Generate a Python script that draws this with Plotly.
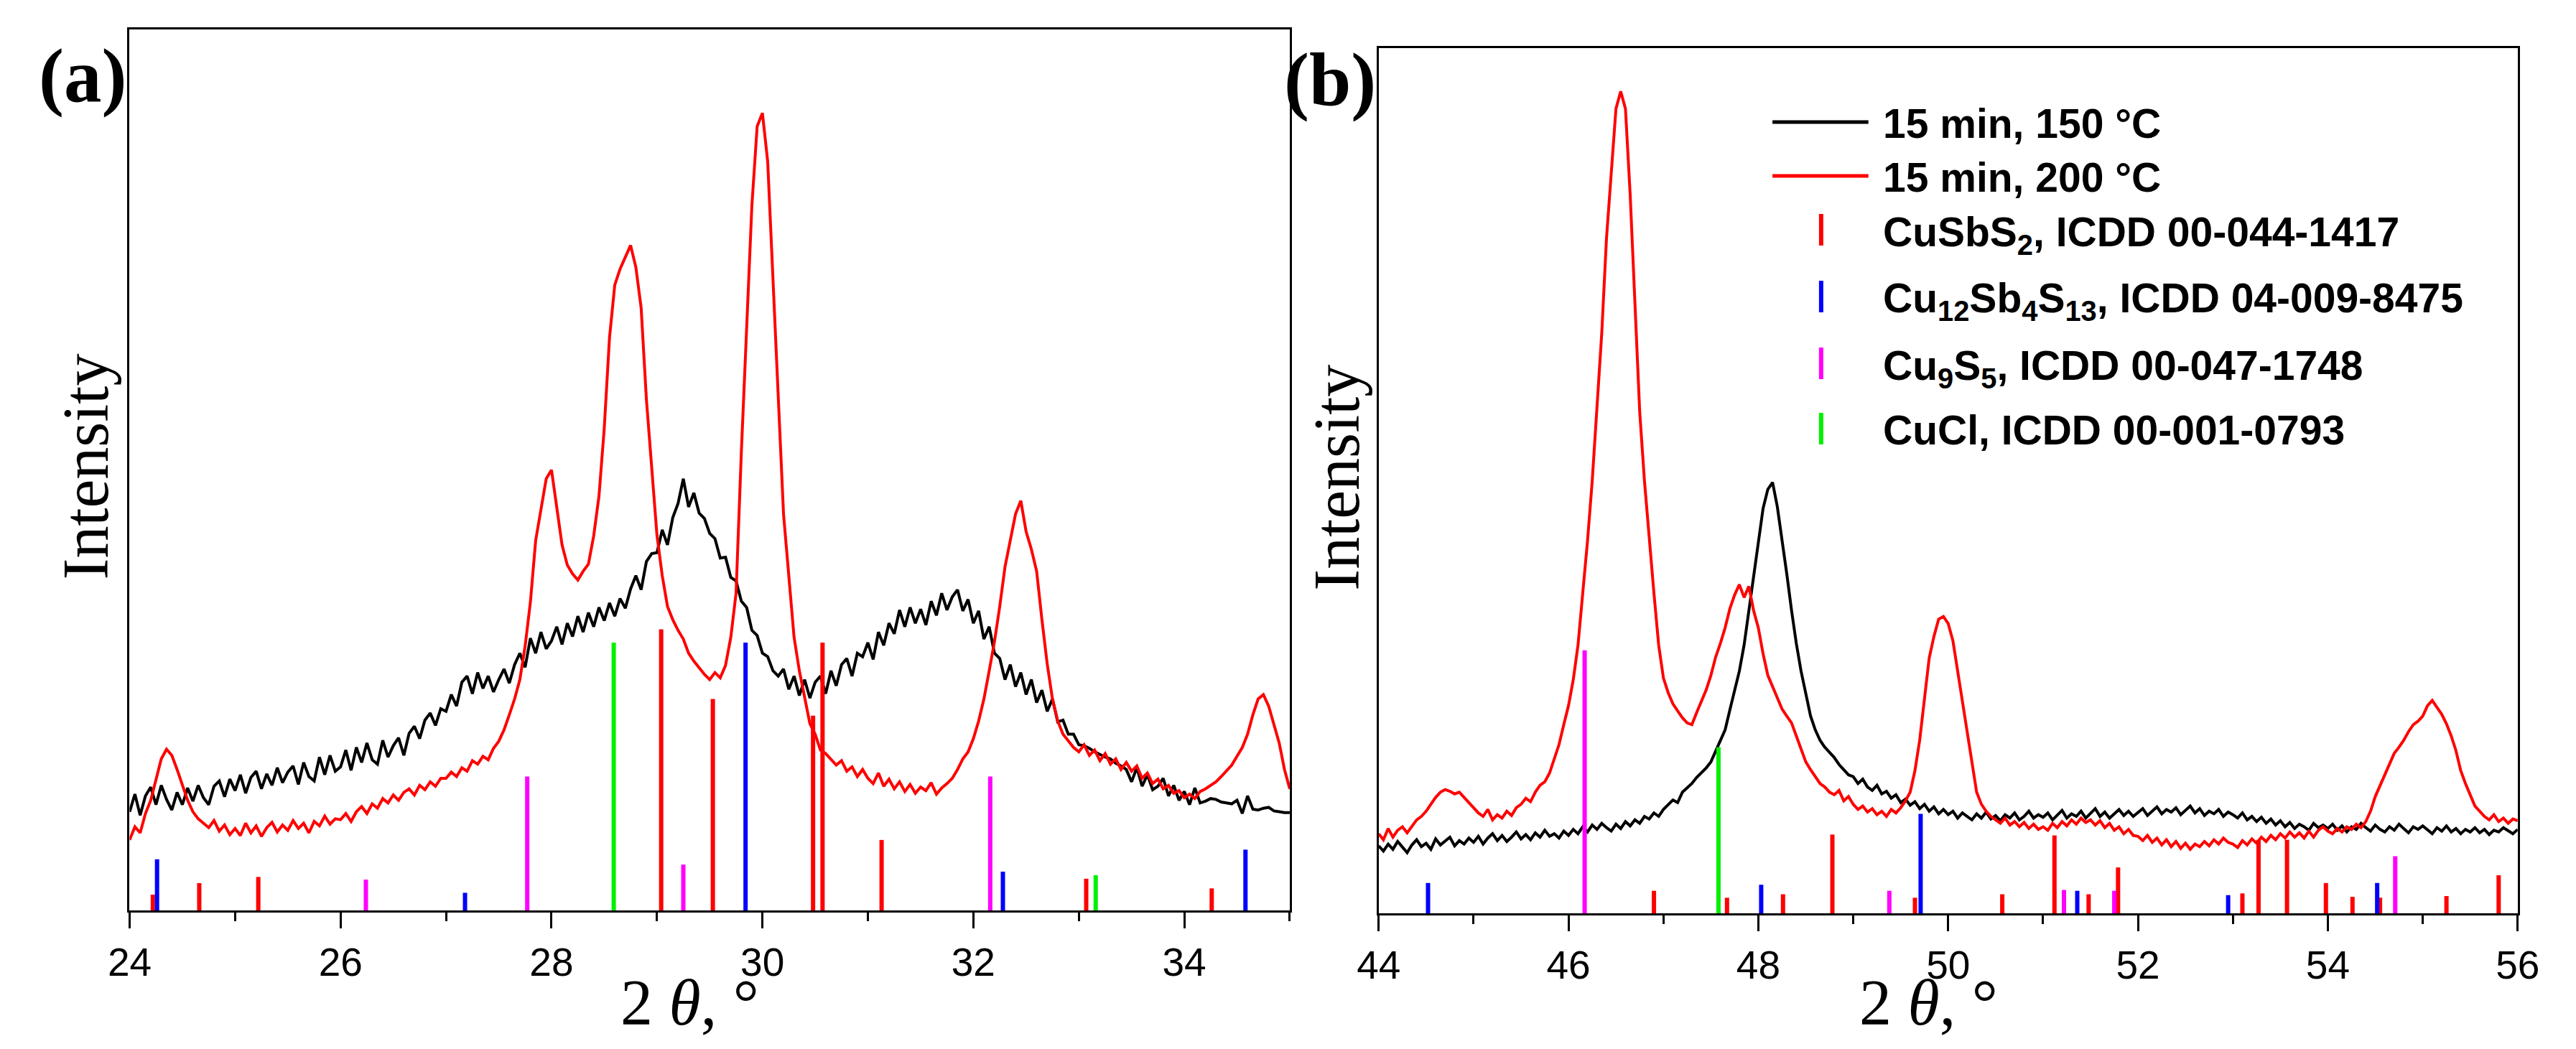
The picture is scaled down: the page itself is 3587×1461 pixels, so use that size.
import numpy as np
import plotly.graph_objects as go

# ---------------- data ----------------
theta_a = np.round(np.arange(24.0, 35.0001, 0.05), 2)
theta_b = np.round(np.arange(44.0, 56.0001, 0.05), 2)

black_a = [
    .112, .132, .108, .130, .140, .120, .142, .126, .114, .134, .120, .139, .124, .142, .128, .120, .141, .147, .129, .149,
    .136, .154, .133, .151, .158, .138, .155, .142, .162, .145, .157, .164, .143, .168, .152, .147, .174, .154, .176, .158,
    .163, .182, .159, .185, .168, .190, .171, .166, .193, .174, .187, .196, .176, .201, .209, .195, .216, .224, .210, .229,
    .226, .245, .232, .259, .266, .246, .270, .252, .266, .248, .262, .274, .258, .279, .292, .276, .309, .292, .316, .297,
    .306, .322, .302, .326, .311, .334, .316, .338, .322, .344, .329, .349, .334, .354, .343, .365, .380, .364, .396, .405,
    .406, .432, .415, .446, .462, .490, .458, .474, .451, .445, .428, .422, .400, .401, .378, .374, .351, .344, .318, .312,
    .292, .288, .272, .266, .274, .251, .266, .244, .262, .241, .259, .266, .246, .272, .255, .279, .286, .266, .292, .288,
    .304, .285, .316, .301, .326, .314, .341, .322, .344, .326, .342, .324, .351, .335, .360, .341, .356, .364, .340, .353,
    .326, .340, .308, .322, .292, .286, .262, .279, .254, .270, .245, .262, .236, .250, .226, .240, .214, .216, .200, .200,
    .188, .187, .184, .180, .177, .174, .172, .167, .164, .160, .146, .162, .141, .154, .137, .141, .150, .130, .142, .125,
    .135, .120, .139, .122, .124, .127, .126, .123, .122, .121, .125, .110, .130, .115, .114, .116, .117, .113, .112, .111, .111,
]
red_a = [
    .080, .095, .088, .110, .125, .150, .172, .183, .176, .160, .142, .125, .112, .104, .099, .094, .102, .090, .097, .086,
    .093, .085, .099, .088, .096, .084, .094, .100, .089, .097, .091, .102, .093, .099, .088, .101, .096, .107, .098, .104,
    .103, .110, .101, .112, .118, .110, .121, .116, .127, .122, .131, .125, .134, .138, .131, .142, .137, .146, .141, .150,
    .150, .157, .152, .162, .158, .170, .166, .175, .171, .184, .192, .205, .222, .240, .262, .300, .350, .420, .455, .490,
    .500, .455, .415, .392, .382, .375, .385, .393, .425, .470, .547, .650, .710, .728, .742, .755, .730, .684, .580, .500,
    .426, .380, .345, .330, .318, .308, .292, .283, .275, .268, .262, .270, .264, .278, .310, .360, .520, .660, .800, .890,
    .905, .850, .720, .580, .450, .380, .310, .272, .240, .212, .200, .182, .178, .172, .165, .170, .158, .163, .152, .160,
    .150, .144, .156, .141, .149, .138, .146, .135, .143, .133, .140, .136, .145, .132, .139, .144, .150, .160, .172, .180,
    .195, .215, .240, .272, .305, .345, .390, .420, .450, .465, .430, .410, .385, .330, .280, .240, .215, .200, .192, .185,
    .180, .188, .176, .182, .170, .178, .166, .172, .160, .168, .158, .164, .150, .156, .144, .149, .138, .142, .133, .136,
    .128, .132, .127, .135, .138, .142, .146, .152, .158, .165, .175, .185, .200, .222, .240, .245, .232, .210, .190, .160, .138,
]
black_b = [
    .078, .072, .080, .074, .083, .076, .070, .079, .085, .077, .081, .074, .086, .079, .083, .088, .078, .084, .080, .087,
    .082, .089, .080, .087, .092, .084, .090, .083, .088, .094, .086, .091, .085, .093, .088, .096, .089, .092, .087, .095,
    .090, .097, .092, .100, .094, .102, .097, .104, .099, .095, .103, .098, .106, .101, .108, .104, .112, .109, .116, .112,
    .120, .126, .131, .128, .140, .145, .150, .157, .162, .168, .175, .188, .200, .212, .235, .258, .280, .310, .350, .392,
    .430, .468, .490, .498, .470, .432, .392, .350, .312, .280, .252, .228, .212, .200, .192, .186, .180, .172, .166, .160,
    .158, .150, .155, .146, .142, .148, .138, .141, .133, .137, .128, .132, .125, .129, .121, .126, .118, .123, .115, .120,
    .114, .118, .110, .116, .112, .108, .115, .110, .117, .109, .113, .107, .114, .110, .116, .108, .112, .118, .110, .114,
    .111, .116, .108, .114, .119, .110, .115, .112, .118, .110, .116, .121, .112, .117, .110, .115, .120, .113, .118, .112,
    .116, .121, .113, .118, .123, .115, .120, .117, .122, .114, .119, .124, .116, .121, .113, .118, .115, .120, .112, .117,
    .114, .110, .116, .108, .112, .106, .111, .104, .109, .102, .107, .100, .105, .098, .103, .100, .096, .104, .099, .102,
    .098, .103, .096, .101, .094, .100, .097, .104, .099, .095, .102, .097, .094, .100, .096, .103, .098, .093, .100, .097,
    .101, .096, .092, .099, .095, .101, .094, .098, .092, .097, .094, .099, .093, .097, .091, .096, .094, .099, .095, .092, .097,
]
red_b = [
    .092, .085, .098, .088, .096, .100, .093, .101, .108, .112, .118, .126, .134, .140, .143, .141, .138, .140, .134, .128,
    .122, .116, .112, .120, .108, .114, .110, .118, .113, .122, .126, .133, .129, .140, .148, .152, .162, .178, .195, .218,
    .240, .270, .310, .370, .430, .500, .580, .670, .780, .860, .930, .950, .930, .830, .700, .580, .500, .430, .370, .310,
    .272, .255, .242, .234, .226, .220, .218, .232, .245, .258, .275, .296, .312, .330, .352, .368, .380, .365, .378, .350,
    .330, .300, .275, .262, .250, .236, .228, .220, .205, .190, .175, .166, .158, .150, .146, .140, .137, .142, .130, .135,
    .126, .120, .124, .117, .121, .114, .118, .112, .120, .116, .122, .130, .140, .165, .200, .250, .295, .320, .340, .343,
    .335, .315, .280, .245, .205, .170, .140, .126, .118, .112, .108, .104, .110, .102, .106, .100, .105, .098, .103, .097,
    .100, .096, .104, .099, .106, .101, .108, .103, .110, .105, .108, .102, .107, .099, .104, .096, .100, .092, .097, .090,
    .089, .084, .090, .082, .087, .079, .085, .077, .083, .075, .081, .074, .080, .077, .083, .078, .085, .080, .087, .082,
    .080, .076, .084, .079, .086, .081, .088, .083, .090, .085, .092, .087, .094, .088, .093, .087, .095, .088, .096, .100,
    .095, .092, .098, .094, .100, .097, .103, .099, .106, .118, .135, .148, .160, .172, .185, .192, .200, .210, .218, .222,
    .228, .240, .246, .238, .230, .219, .205, .188, .165, .150, .136, .124, .118, .112, .108, .114, .106, .110, .104, .109, .107,
]
assert len(black_a) == len(theta_a) == len(red_a)
assert len(black_b) == len(theta_b) == len(red_b)

# reference patterns (position, relative height)
cusbs2_a_pos = [24.22, 24.66, 25.22, 29.04, 29.53, 30.48, 30.57, 31.13, 33.07, 34.26]
cusbs2_a_int = [.018, .031, .038, .319, .240, .221, .304, .080, .036, .025]
cusbs2_b_pos = [46.90, 47.67, 48.26, 48.78, 49.65, 50.57, 51.12, 51.48, 51.79, 53.10, 53.27, 53.57, 53.98, 54.26, 54.55, 55.25, 55.80]
cusbs2_b_int = [.026, .018, .022, .091, .018, .022, .090, .022, .053, .023, .085, .085, .035, .019, .018, .020, .044]

cu12_a_pos = [24.26, 27.18, 29.84, 32.28, 34.58]
cu12_a_int = [.058, .020, .304, .044, .069]
cu12_b_pos = [44.52, 48.03, 49.71, 51.36, 52.95, 54.52]
cu12_b_int = [.035, .033, .115, .026, .021, .035]

cu9s5_a_pos = [26.24, 27.77, 29.25, 32.16]
cu9s5_a_int = [.035, .152, .052, .152]
cu9s5_b_pos = [46.17, 49.38, 51.22, 51.75, 54.71]
cu9s5_b_int = [.304, .026, .027, .026, .066]

cucl_a_pos = [28.59, 33.16]
cucl_a_int = [.304, .040]
cucl_b_pos = [47.58]
cucl_b_int = [.192]

series_names = ["15 min, 150 °C", "15 min, 200 °C"]
phase_names = [
    "CuSbS<sub>2</sub>, ICDD 00-044-1417",
    "Cu<sub>12</sub>Sb<sub>4</sub>S<sub>13</sub>, ICDD 04-009-8475",
    "Cu<sub>9</sub>S<sub>5</sub>, ICDD 00-047-1748",
    "CuCl, ICDD 00-001-0793",
]
ticks_a = [24, 26, 28, 30, 32, 34]
ticks_b = [44, 46, 48, 50, 52, 54, 56]

# ---------------- styling ----------------
W, H = 3587, 1461
OFF = 8                      # default page body margin
FW, FH = W - 2 * OFF, H - 2 * OFF
BLACK, RED, BLUE, MAG, GREEN = "#000000", "#FF0000", "#0000FF", "#FF00FF", "#00F000"
phase_colors = [RED, BLUE, MAG, GREEN]
SANS = "Liberation Sans, Arial, sans-serif"
SERIF = "Liberation Serif, Times New Roman, serif"


def px_x(p):
    return (p - OFF) / FW


def px_y(p):
    return 1 - (p - OFF) / FH


def sticks(pos, hts):
    xs, ys = [], []
    for p, h in zip(pos, hts):
        xs += [p, p, None]
        ys += [0, h, None]
    return xs, ys


fig = go.Figure()

for xa, ya, th, bk, rd in [("x", "y", theta_a, black_a, red_a), ("x2", "y2", theta_b, black_b, red_b)]:
    fig.add_trace(go.Scatter(x=th, y=bk, mode="lines", line=dict(color=BLACK, width=4),
                             xaxis=xa, yaxis=ya, showlegend=False, name=series_names[0]))
    fig.add_trace(go.Scatter(x=th, y=rd, mode="lines", line=dict(color=RED, width=4),
                             xaxis=xa, yaxis=ya, showlegend=False, name=series_names[1]))

stick_sets = [
    (cusbs2_a_pos, cusbs2_a_int, cusbs2_b_pos, cusbs2_b_int),
    (cu12_a_pos, cu12_a_int, cu12_b_pos, cu12_b_int),
    (cu9s5_a_pos, cu9s5_a_int, cu9s5_b_pos, cu9s5_b_int),
    (cucl_a_pos, cucl_a_int, cucl_b_pos, cucl_b_int),
]
for (pa, ia, pb, ib), col, nm in zip(stick_sets, phase_colors, phase_names):
    xs, ys = sticks(pa, ia)
    fig.add_trace(go.Scatter(x=xs, y=ys, mode="lines", line=dict(color=col, width=6),
                             xaxis="x", yaxis="y", showlegend=False, name=nm))
    xs, ys = sticks(pb, ib)
    fig.add_trace(go.Scatter(x=xs, y=ys, mode="lines", line=dict(color=col, width=6),
                             xaxis="x2", yaxis="y2", showlegend=False, name=nm))

# plot areas (pixel boxes in the final picture)
A = dict(l=152, r=1796, t=41, b=1268)
B = dict(l=1922, r=3536, t=67, b=1272)

common_x = dict(showline=True, linecolor="black", linewidth=3, mirror=True, ticks="outside",
                ticklen=22, tickwidth=3, tickcolor="black", showgrid=False, zeroline=False,
                tickfont=dict(family=SANS, size=55, color="black"),
                minor=dict(ticks="outside", ticklen=12, tickwidth=3, tickcolor="black", dtick=1, showgrid=False))
common_y = dict(showline=True, linecolor="black", linewidth=3, mirror=True, ticks="",
                showticklabels=False, showgrid=False, zeroline=False, range=[0, 1])

fig.update_layout(
    width=FW, height=FH, autosize=False,
    margin=dict(l=0, r=0, t=0, b=0),
    paper_bgcolor="white", plot_bgcolor="white",
    showlegend=False,
    xaxis=dict(domain=[px_x(A["l"]), px_x(A["r"])], range=[24, 35], tickvals=ticks_a,
               anchor="y", **common_x),
    yaxis=dict(domain=[px_y(A["b"]), px_y(A["t"])], anchor="x", **common_y),
    xaxis2=dict(domain=[px_x(B["l"]), px_x(B["r"])], range=[44, 56], tickvals=ticks_b,
                anchor="y2", **common_x),
    yaxis2=dict(domain=[px_y(B["b"]), px_y(B["t"])], anchor="x2", **common_y),
)

ann = []
# axis titles
for cx in [946, 2701]:
    ann.append(dict(text="2 <i>θ</i>, °", x=px_x(cx), y=px_y(1396), xref="paper", yref="paper",
                    xanchor="center", yanchor="middle", showarrow=False,
                    font=dict(family=SERIF, size=90, color="black")))
for cx, cy in [(90, 650), (1862, 665)]:
    ann.append(dict(text="Intensity", x=px_x(cx), y=px_y(cy), xref="paper", yref="paper",
                    xanchor="center", yanchor="middle", showarrow=False, textangle=-90,
                    font=dict(family=SERIF, size=90, color="black")))
# panel labels
for t, cx, cy in [("<b>(a)</b>", 85, 105), ("<b>(b)</b>", 1853, 112)]:
    ann.append(dict(text=t, x=px_x(cx), y=px_y(cy), xref="paper", yref="paper",
                    xanchor="center", yanchor="middle", showarrow=False,
                    font=dict(family=SERIF, size=105, color="black")))

# legend (drawn manually to match the original layout)
leg_text_x = 2635
row_tops = [138, 213, 289, 381, 475, 565]
row_mid = [170, 245, 320, 413, 506, 597]
labels = series_names + phase_names
for t, top in zip(labels, row_tops):
    ann.append(dict(text="<b>" + t + "</b>", x=px_x(leg_text_x), y=px_y(top), xref="paper", yref="paper",
                    xanchor="left", yanchor="top", showarrow=False,
                    font=dict(family=SANS, size=57, color="black")))
shapes = []
for col, ym in zip([BLACK, RED], row_mid[:2]):
    shapes.append(dict(type="line", xref="paper", yref="paper", x0=px_x(2480), x1=px_x(2616),
                       y0=px_y(ym), y1=px_y(ym), line=dict(color=col, width=5)))
for col, ym in zip(phase_colors, row_mid[2:]):
    shapes.append(dict(type="line", xref="paper", yref="paper", x0=px_x(2549), x1=px_x(2549),
                       y0=px_y(ym - 22), y1=px_y(ym + 22), line=dict(color=col, width=6)))

fig.update_layout(annotations=ann, shapes=shapes)
fig.write_html("out.html")
